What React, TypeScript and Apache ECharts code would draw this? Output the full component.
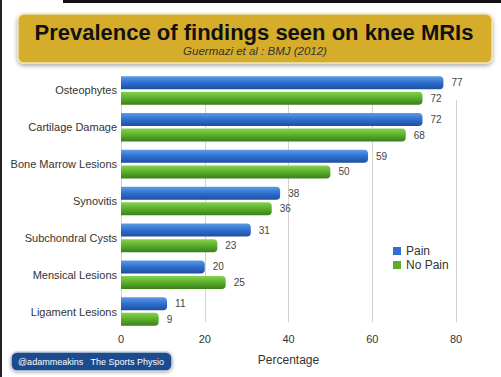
import React, { useEffect, useRef } from "react";
import * as echarts from "echarts";

const categories = [
  "Osteophytes",
  "Cartilage Damage",
  "Bone Marrow Lesions",
  "Synovitis",
  "Subchondral Cysts",
  "Mensical Lesions",
  "Ligament Lesions",
];
const painValues = [77, 72, 59, 38, 31, 20, 11];
const noPainValues = [72, 68, 50, 36, 23, 25, 9];
const xTicks = [0, 20, 40, 60, 80];

const FONT = "'Liberation Sans', Arial, Helvetica, sans-serif";

export default function App() {
  const ref = useRef<HTMLDivElement>(null);
  useEffect(() => {
    if (!ref.current) return;
    const chart = echarts.init(ref.current, null, { renderer: "svg" });
    const blue = new echarts.graphic.LinearGradient(0, 0, 0, 1, [
      { offset: 0, color: "#5c9be6" },
      { offset: 0.5, color: "#2f6fcf" },
      { offset: 1, color: "#1d4f9e" },
    ]);
    const green = new echarts.graphic.LinearGradient(0, 0, 0, 1, [
      { offset: 0, color: "#86d24e" },
      { offset: 0.5, color: "#5aae2c" },
      { offset: 1, color: "#3a7f18" },
    ]);
    chart.setOption({
      animation: false,
      backgroundColor: "#ffffff",
      textStyle: { fontFamily: FONT },
      grid: [
        { left: 121, right: 45, top: 72, bottom: 47, containLabel: false },
        { left: 121, right: 45, top: 100, bottom: 55, containLabel: false },
      ],
      legend: {
        orient: "vertical",
        left: 388,
        top: 240,
        itemWidth: 8,
        itemHeight: 8,
        itemGap: 2,
        icon: "rect",
        textStyle: { fontSize: 12, color: "#333", fontFamily: FONT, lineHeight: 11 },
        data: [
          { name: "Pain", itemStyle: { color: "#2f6fcf" } },
          { name: "No Pain", itemStyle: { color: "#5aae2c" } },
        ],
      },
      xAxis: [
        {
          type: "value",
          gridIndex: 0,
          min: xTicks[0],
          max: xTicks[xTicks.length - 1],
          interval: 20,
          name: "Percentage",
          nameLocation: "middle",
          nameGap: 24,
          nameTextStyle: { fontSize: 12, color: "#333", fontFamily: FONT },
          axisLine: { show: false },
          axisTick: { show: false },
          axisLabel: { fontSize: 11, color: "#333", margin: 3, fontFamily: FONT },
          splitLine: { show: false },
        },
        {
          type: "value",
          gridIndex: 1,
          min: xTicks[0],
          max: xTicks[xTicks.length - 1],
          interval: 20,
          axisLine: { show: false },
          axisTick: { show: false },
          axisLabel: { show: false },
          splitLine: { show: true, lineStyle: { color: "#d2d2d2", width: 1 } },
        },
      ],
      yAxis: [
        {
          type: "category",
          gridIndex: 0,
          inverse: true,
          data: categories,
          axisLine: { show: false },
          axisTick: { show: false },
          axisLabel: { fontSize: 11, color: "#333", margin: 4, fontFamily: FONT },
          z: 5,
        },
        {
          type: "category",
          gridIndex: 1,
          data: categories,
          show: false,
        },
      ],
      series: [
        {
          name: "Pain",
          type: "bar",
          xAxisIndex: 0,
          yAxisIndex: 0,
          data: painValues,
          barWidth: 13,
          barGap: "20%",
          z: 5,
          itemStyle: { color: blue, borderRadius: [0, 4, 4, 0] },
          label: {
            show: true,
            position: "right",
            distance: 8,
            fontSize: 10,
            color: "#444",
            fontFamily: FONT,
          },
        },
        {
          name: "No Pain",
          type: "bar",
          xAxisIndex: 0,
          yAxisIndex: 0,
          data: noPainValues,
          barWidth: 13,
          z: 5,
          itemStyle: { color: green, borderRadius: [0, 4, 4, 0] },
          label: {
            show: true,
            position: "right",
            distance: 8,
            fontSize: 10,
            color: "#444",
            fontFamily: FONT,
          },
        },
      ],
      graphic: [
        { type: "rect", shape: { x: 63, y: 0, width: 438, height: 3 }, style: { fill: "#111" }, silent: true },
        { type: "rect", shape: { x: 0, y: 0, width: 2, height: 377 }, style: { fill: "#222" }, silent: true },
        {
          type: "rect",
          shape: { x: 18, y: 14, width: 474, height: 49, r: 6 },
          style: {
            fill: "#d5ad2a",
            stroke: "#efe3b0",
            lineWidth: 1.5,
            shadowBlur: 4,
            shadowColor: "rgba(0,0,0,0.35)",
            shadowOffsetY: 2,
          },
          z: 10,
        },
        {
          type: "text",
          x: 254,
          y: 32,
          style: {
            text: "Prevalence of findings seen on knee MRIs",
            fill: "#111",
            font: "bold 22px " + FONT,
            textAlign: "center",
            textVerticalAlign: "middle",
          },
          z: 11,
        },
        {
          type: "text",
          x: 255,
          y: 51,
          style: {
            text: "Guermazi et al : BMJ (2012)",
            fill: "#333",
            font: "italic 11.5px " + FONT,
            textAlign: "center",
            textVerticalAlign: "middle",
          },
          z: 11,
        },
        {
          type: "rect",
          shape: { x: 11, y: 352, width: 161, height: 19, r: 6 },
          style: {
            fill: "#1f4c8e",
            stroke: "#c9d3e3",
            lineWidth: 1.5,
            shadowBlur: 3,
            shadowColor: "rgba(0,0,0,0.3)",
            shadowOffsetY: 1,
          },
          z: 10,
        },
        {
          type: "text",
          x: 91,
          y: 361.5,
          style: {
            text: "@adammeakins   The Sports Physio",
            fill: "#ffffff",
            font: "9px " + FONT,
            textAlign: "center",
            textVerticalAlign: "middle",
          },
          z: 11,
        },
      ],
    });
    return () => chart.dispose();
  }, []);
  return (
    <div
      ref={ref}
      style={{ position: "fixed", left: 0, top: 0, width: 501, height: 377 }}
    />
  );
}
